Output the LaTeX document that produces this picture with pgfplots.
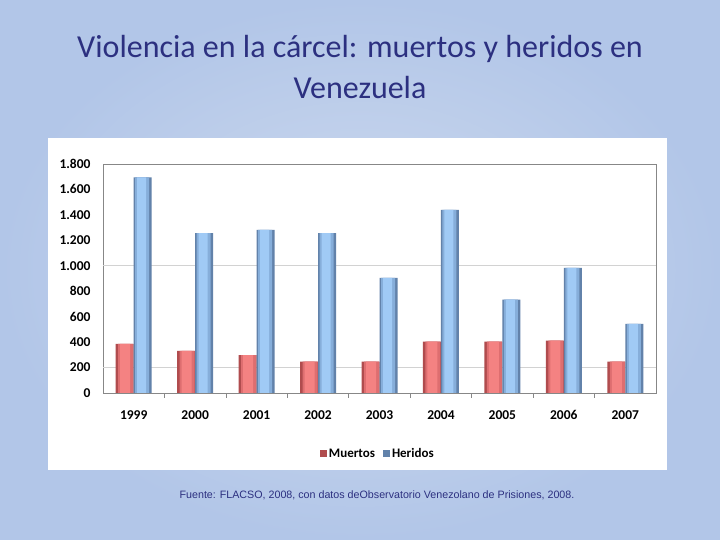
\documentclass[border=0pt]{standalone}
\usepackage{fontspec}
\setmainfont{Carlito}
\newfontfamily\notefont{Liberation Sans}
\usepackage{pgfplots}
\pgfplotsset{compat=1.18}
\definecolor{bginner}{RGB}{206,218,238}
\definecolor{bgouter}{RGB}{178,198,232}
\definecolor{titleblue}{RGB}{44,48,128}
\definecolor{red1}{RGB}{176,76,78}
\definecolor{red2}{RGB}{222,110,112}
\definecolor{red3}{RGB}{244,130,130}
\definecolor{blu1}{RGB}{98,130,170}
\definecolor{blu2}{RGB}{134,174,218}
\definecolor{blu3}{RGB}{160,202,245}
\definecolor{gridgray}{RGB}{210,210,210}
\definecolor{framegray}{RGB}{135,135,135}

\pgfplotstableread{
x muertos heridos
0 387 1695
1 332 1256
2 298 1282
3 246 1256
4 246 905
5 403 1439
6 403 733
7 411 984
8 246 544
}\violencia

\begin{document}
\begin{tikzpicture}
\path[use as bounding box] (0,0) rectangle (720bp,540bp);
% slide background
\shade[inner color=bginner, outer color=bgouter] (0,0) rectangle (720bp,540bp);
% title and footnote
\node[font=\fontsize{32bp}{36bp}\selectfont, text=titleblue] at (360bp,491bp) {Violencia en la cárcel: muertos y heridos en};
\node[font=\fontsize{32bp}{36bp}\selectfont, text=titleblue] at (360bp,452bp) {Venezuela};
\node[font=\notefont\fontsize{10.7bp}{12bp}\selectfont, text=titleblue] at (377bp,45bp) {Fuente: FLACSO, 2008, con datos deObservatorio Venezolano de Prisiones, 2008.};
% chart box
\fill[white] (48bp,70bp) rectangle (667bp,402bp);

\begin{axis}[
  at={(103bp,147bp)}, anchor=south west,
  scale only axis, width=553bp, height=229bp,
  ybar=0pt, bar width=18bp,
  xmin=-0.5, xmax=8.5, ymin=0, ymax=1800,
  xtick={0,...,8},
  xticklabels={1999,2000,2001,2002,2003,2004,2005,2006,2007},
  minor xtick={0.5,1.5,...,7.5},
  ytick={0,200,...,1800},
  extra y ticks={200,1000},
  extra y tick labels={},
  extra y tick style={grid=major},
  grid style={gridgray, line width=0.8pt},
  axis line style={framegray, line width=0.8pt},
  tick style={framegray, line width=0.6pt},
  tick align=outside,
  major tick length=0pt, minor tick length=5bp,
  xtick pos=bottom, ytick pos=left,
  x tick label style={font=\bfseries\fontsize{13.5bp}{15bp}\selectfont, yshift=-14bp},
  y tick label style={font=\bfseries\fontsize{13.5bp}{15bp}\selectfont, xshift=-9bp},
  /pgf/number format/.cd, 1000 sep={.}, assume math mode=true,
  /pgfplots/.cd,
  legend style={at={(0.497,-0.266)}, anchor=center, draw=none, fill=none,
    legend columns=2, font=\bfseries\fontsize{13bp}{15bp}\selectfont,
    /tikz/every even column/.append style={column sep=6bp}},
  area legend,
  legend image code/.code={\fill[#1] (0bp,-3.5bp) rectangle (7bp,3.5bp);},
]
% Muertos: dark base with lighter inner strips for the shaded look
\addplot[draw=none, fill=red1, bar shift=-9bp, bar width=18bp] table[x=x, y=muertos] {\violencia};
\addlegendentry{Muertos}
\addplot[forget plot, draw=none, fill=red2, bar shift=-8bp, bar width=15bp] table[x=x, y=muertos] {\violencia};
\addplot[forget plot, draw=none, fill=red3, bar shift=-8.5bp, bar width=10bp] table[x=x, y=muertos] {\violencia};
% Heridos
\addplot[draw=none, fill=blu1, bar shift=9bp, bar width=18bp] table[x=x, y=heridos] {\violencia};
\addlegendentry{Heridos}
\addplot[forget plot, draw=none, fill=blu2, bar shift=8.5bp, bar width=14bp] table[x=x, y=heridos] {\violencia};
\addplot[forget plot, draw=none, fill=blu3, bar shift=8bp, bar width=9bp] table[x=x, y=heridos] {\violencia};
\end{axis}
\end{tikzpicture}
\end{document}
